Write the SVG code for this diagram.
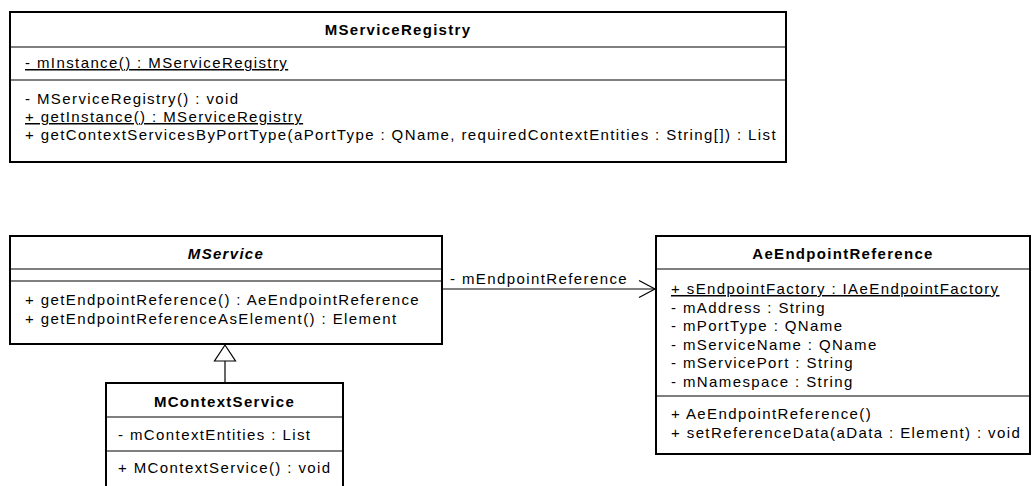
<svg xmlns="http://www.w3.org/2000/svg" width="1032" height="486" viewBox="0 0 1032 486">
<style>
.box{fill:#fff;stroke:#000;stroke-width:2}
.div{stroke:#000;stroke-width:1.2}
text{font-family:"Liberation Sans",Arial,Helvetica,sans-serif;font-size:15px;letter-spacing:1.4px;fill:#000}
.t{font-weight:bold;text-anchor:middle;letter-spacing:1.3px}
.i{font-style:italic}
.u{text-decoration:underline}
.conn{fill:none;stroke:#000;stroke-width:1.2}
</style>
<rect width="1032" height="486" fill="#fff"/>
<g id="MServiceRegistry">
<rect class="box" x="10" y="12" width="776" height="150"/>
<line class="div" x1="10" y1="47" x2="786" y2="47"/>
<line class="div" x1="10" y1="80" x2="786" y2="80"/>
<text class="t" x="398" y="35">MServiceRegistry</text>
<text class="u" x="25" y="68">- mInstance() : MServiceRegistry</text>
<text x="25" y="104">- MServiceRegistry() : void</text>
<text class="u" x="25" y="122">+ getInstance() : MServiceRegistry</text>
<text x="25" y="140">+ getContextServicesByPortType(aPortType : QName, requiredContextEntities : String[]) : List</text>
</g>
<g id="MService">
<rect class="box" x="10" y="236" width="432" height="108"/>
<line class="div" x1="10" y1="269" x2="442" y2="269"/>
<line class="div" x1="10" y1="281" x2="442" y2="281"/>
<text class="t i" x="226" y="259">MService</text>
<text x="25" y="305">+ getEndpointReference() : AeEndpointReference</text>
<text x="25" y="324">+ getEndpointReferenceAsElement() : Element</text>
</g>
<g id="MContextService">
<rect class="box" x="106" y="383" width="237" height="120"/>
<line class="div" x1="106" y1="417" x2="343" y2="417"/>
<line class="div" x1="106" y1="451" x2="343" y2="451"/>
<text class="t" x="224.5" y="407">MContextService</text>
<text x="118" y="440">- mContextEntities : List</text>
<text x="118" y="473">+ MContextService() : void</text>
</g>
<g id="AeEndpointReference">
<rect class="box" x="656" y="236" width="374" height="218"/>
<line class="div" x1="656" y1="269" x2="1030" y2="269"/>
<line class="div" x1="656" y1="396" x2="1030" y2="396"/>
<text class="t" x="843" y="259">AeEndpointReference</text>
<text class="u" x="671" y="294">+ sEndpointFactory : IAeEndpointFactory</text>
<text x="671" y="312.5">- mAddress : String</text>
<text x="671" y="331">- mPortType : QName</text>
<text x="671" y="349.5">- mServiceName : QName</text>
<text x="671" y="368">- mServicePort : String</text>
<text x="671" y="386.5">- mNamespace : String</text>
<text x="671" y="419">+ AeEndpointReference()</text>
<text x="671" y="438">+ setReferenceData(aData : Element) : void</text>
</g>
<g id="connectors">
<line class="conn" x1="442" y1="289" x2="655" y2="289"/>
<polyline class="conn" points="639,280.5 655,289 639,297.5"/>
<text x="450" y="284">- mEndpointReference</text>
<line class="conn" x1="225" y1="361" x2="225" y2="383"/>
<polygon points="225,345 214.5,361 235.5,361" fill="#fff" stroke="#000" stroke-width="1.2"/>
</g>
</svg>
